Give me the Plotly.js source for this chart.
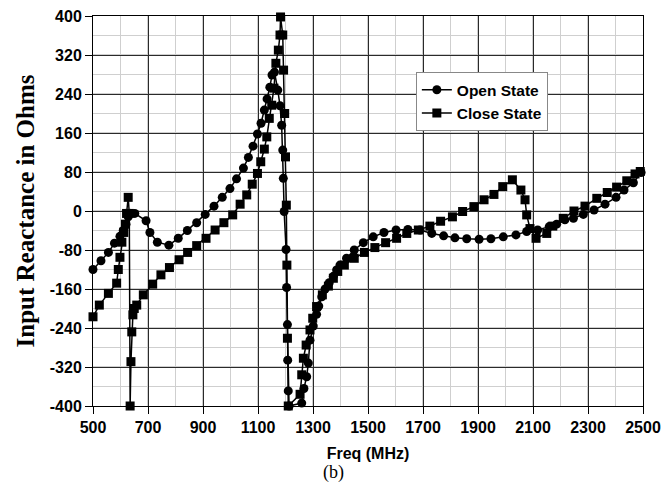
<!DOCTYPE html>
<html>
<head>
<meta charset="utf-8">
<script src="https://cdn.plot.ly/plotly-3.0.1.min.js"></script>
<style>html,body{margin:0;padding:0;background:#fff;}#chart{width:663px;height:491px;}</style>
</head>
<body>
<div id="chart"></div>
<script>
// Open State: frequency (MHz) and input reactance (Ohms)
var openFreq = [500,529,556,578,598,610,620,628,652,693,707,734,776,810,843,877,908,940,970,998,1022,1047,1065,1082,1098,1111,1123,1133,1143,1151,1160,1172,1180,1186,1190,1192,1195,1202,1204,1207,1208,1210,1213,1259,1267,1277,1283,1289,1301,1313,1321,1332,1344,1359,1374,1386,1398,1422,1450,1483,1519,1558,1602,1645,1689,1732,1775,1816,1859,1904,1947,1992,2038,2077,2117,2159,2186,2216,2247,2283,2322,2362,2402,2431,2465,2493];
var openX    = [-120,-102,-85,-66,-52,-40,-27,-12,-5,-20,-44,-64,-70,-56,-40,-24,-7,10,28,46,66,88,110,133,158,180,207,230,254,279,285,248,216,176,125,67,-1,-79,-157,-233,-306,-369,-400,-394,-364,-340,-312,-265,-236,-212,-195,-176,-160,-147,-134,-121,-111,-97,-80,-65,-53,-44,-39,-38,-39,-46,-51,-55,-57,-58,-57,-53,-49,-42,-39,-32,-27,-18,-15,-7,2,14,28,43,58,79];
// Close State
var closeFreq = [500,523,556,586,592,598,605,612,618,622,628,632,635,638,641,645,650,659,683,717,747,778,813,844,877,911,944,976,1008,1035,1059,1079,1098,1110,1123,1132,1141,1150,1158,1165,1174,1180,1182,1190,1193,1197,1200,1203,1205,1207,1210,1253,1259,1265,1275,1289,1299,1313,1334,1356,1374,1390,1414,1450,1487,1525,1564,1604,1641,1683,1725,1764,1807,1844,1885,1922,1958,1990,2025,2056,2071,2077,2089,2111,2150,2172,2210,2249,2289,2332,2370,2404,2441,2471,2490];
var closeX    = [-217,-193,-169,-148,-120,-95,-64,-44,-27,-5,28,-5,-400,-309,-248,-213,-200,-193,-172,-150,-131,-116,-100,-85,-71,-56,-39,-24,-8,14,33,55,77,101,127,152,190,217,252,303,330,361,398,361,289,200,111,12,-111,-261,-400,-376,-336,-302,-275,-244,-220,-196,-172,-154,-138,-124,-111,-97,-85,-75,-65,-56,-46,-39,-31,-21,-12,-1,9,23,34,50,64,43,23,-8,-36,-56,-46,-31,-15,0,10,26,38,49,62,76,81];

var xTickVals = [500,700,900,1100,1300,1500,1700,1900,2100,2300,2500];
var yTickVals = [-400,-320,-240,-160,-80,0,80,160,240,320,400];
var yTickText = ["-400","-320","-240","-160","-80","0","80","160","240","320","400"];

var sansBold = {family: "Liberation Sans, Arial, sans-serif", size: 16, color: "#000", weight: "bold"};

var traces = [
  {x: openFreq, y: openX, name: "Open State", mode: "lines+markers", type: "scatter", cliponaxis: false,
   line: {color: "#000", width: 1.5}, marker: {symbol: "circle", size: 9, color: "#000"}},
  {x: closeFreq, y: closeX, name: "Close State", mode: "lines+markers", type: "scatter", cliponaxis: false,
   line: {color: "#000", width: 1.5}, marker: {symbol: "square", size: 9, color: "#000"}}
];

var layout = {
  width: 663, height: 491,
  margin: {l: 93, r: 20, t: 16, b: 85},
  paper_bgcolor: "#fff", plot_bgcolor: "#fff",
  showlegend: true,
  legend: {x: 0.587, y: 0.856, xanchor: "left", yanchor: "top", bgcolor: "#fff",
           bordercolor: "#888", borderwidth: 1,
           font: {family: "Liberation Sans, Arial, sans-serif", size: 15.5, color: "#000", weight: "bold"},
           tracegroupgap: 0, itemwidth: 30},
  xaxis: {
    range: [500, 2500], tickmode: "array", tickvals: xTickVals,
    showline: true, linecolor: "#000", linewidth: 1, mirror: true,
    ticks: "outside", ticklen: 7, tickcolor: "#000",
    showgrid: true, gridcolor: "#2a2a2a", gridwidth: 1,
    minor: {dtick: 100, tick0: 500, showgrid: true, gridcolor: "#cfcfcf", gridwidth: 1.2},
    zeroline: false, tickfont: sansBold,
    title: {text: "Freq (MHz)", font: {family: "Liberation Sans, Arial, sans-serif", size: 16, color: "#000", weight: "bold"}, standoff: 12}
  },
  yaxis: {
    range: [-400, 400], tickmode: "array", tickvals: yTickVals, ticktext: yTickText,
    showline: true, linecolor: "#000", linewidth: 1, mirror: true,
    ticks: "outside", ticklen: 7, tickcolor: "#000",
    showgrid: true, gridcolor: "#2a2a2a", gridwidth: 1,
    minor: {dtick: 40, tick0: 0, showgrid: true, gridcolor: "#cfcfcf", gridwidth: 1.2},
    zeroline: false, tickfont: sansBold,
    title: {text: "Input Reactance in Ohms", font: {family: "Liberation Serif, Times New Roman, serif", size: 25, color: "#000", weight: "bold"}, standoff: 8}
  },
  annotations: [
    {text: "(b)", xref: "paper", yref: "paper", x: 0.437, y: -0.17, xanchor: "center", yanchor: "middle",
     showarrow: false, font: {family: "Liberation Serif, Times New Roman, serif", size: 18, color: "#000"}}
  ]
};

Plotly.newPlot("chart", traces, layout, {displayModeBar: false, staticPlot: true});
</script>
</body>
</html>
